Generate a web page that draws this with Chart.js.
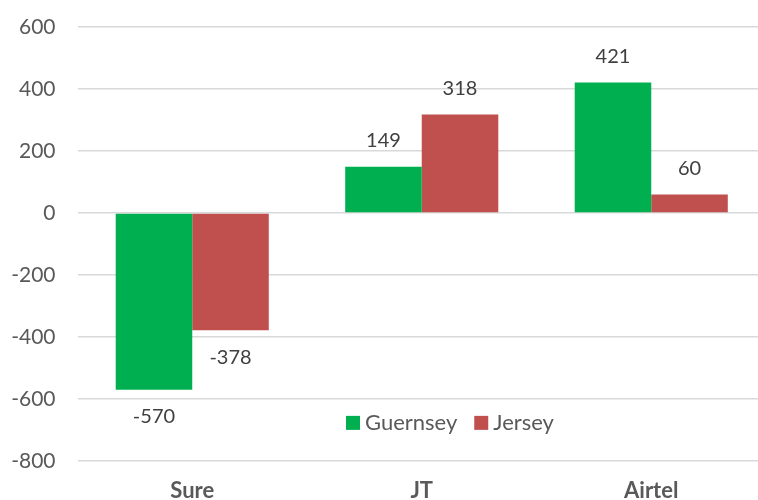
<!DOCTYPE html>
<html>
<head>
<meta charset="utf-8">
<script src="https://cdn.jsdelivr.net/npm/chart.js@4/dist/chart.umd.min.js"></script>
<style>
  html, body { margin: 0; padding: 0; background: #fff; overflow: hidden; }
  #wrap { width: 758px; height: 500px; overflow: hidden; }
  #box { width: 772px; height: 500px; }
</style>
</head>
<body>
<div id="wrap"><div id="box"><canvas id="chart"></canvas></div></div>
<script>
// values
const categories = ['Sure', 'JT', 'Airtel'];
const guernsey = [-570, 149, 421];
const jersey = [-378, 318, 60];
const yTicks = [-800, -600, -400, -200, 0, 200, 400, 600];

const FONT = 'Lato, "Open Sans", sans-serif';

// value labels above positive bars, below negative ones
const barLabels = {
    id: 'barLabels',
    afterDatasetsDraw(chart) {
        const ctx = chart.ctx;
        ctx.save();
        ctx.font = '20px ' + FONT;
        ctx.fillStyle = '#404040';
        ctx.textAlign = 'center';
        ctx.textBaseline = 'middle';
        chart.data.datasets.forEach((ds, i) => {
            chart.getDatasetMeta(i).data.forEach((bar, j) => {
                const v = ds.data[j];
                const y = v >= 0 ? bar.y - 26 : bar.y + 27;
                ctx.fillText(String(v), bar.x, y);
            });
        });
        ctx.restore();
    }
};

// legend drawn inside the plot, between -600 and -800
const innerLegend = {
    id: 'innerLegend',
    afterDraw(chart) {
        const ctx = chart.ctx;
        const y = chart.scales.y.getPixelForValue(-677);
        ctx.save();
        ctx.font = '22px ' + FONT;
        ctx.textBaseline = 'middle';
        let x = 346;
        chart.data.datasets.forEach(ds => {
            ctx.fillStyle = ds.backgroundColor;
            ctx.fillRect(x, y - 7, 14, 14);
            ctx.fillStyle = '#595959';
            ctx.fillText(ds.label, x + 19, y);
            x += 19 + ctx.measureText(ds.label).width + 17;
        });
        ctx.restore();
    }
};

new Chart(document.getElementById('chart'), {
    type: 'bar',
    data: {
        labels: categories,
        datasets: [
            { label: 'Guernsey', data: guernsey, backgroundColor: '#00b050' },
            { label: 'Jersey', data: jersey, backgroundColor: '#c0504d' }
        ]
    },
    options: {
        responsive: true,
        maintainAspectRatio: false,
        animation: false,
        layout: { padding: { top: 27, right: 6, left: 8, bottom: 0 } },
        datasets: { bar: { barPercentage: 1, categoryPercentage: 0.667 } },
        plugins: {
            legend: { display: false },
            tooltip: { enabled: false }
        },
        scales: {
            x: {
                afterFit(axis) { axis.height = 39; },
                grid: { display: false, drawTicks: false },
                border: { display: false },
                ticks: {
                    color: '#595959',
                    font: { family: FONT, size: 22, weight: 'bold' },
                    padding: 17
                }
            },
            y: {
                min: -800,
                max: 600,
                afterBuildTicks(axis) {
                    axis.ticks = yTicks.map(v => ({ value: v }));
                },
                afterFit(axis) {
                    axis.width = 69.5;
                    axis.paddingTop = 0;
                    axis.paddingBottom = 0;
                },
                grid: { color: '#d9d9d9', lineWidth: 1.5, drawTicks: false },
                border: { display: false },
                ticks: {
                    color: '#595959',
                    font: { family: FONT, size: 21 },
                    padding: 22
                }
            }
        }
    },
    plugins: [barLabels, innerLegend]
});
</script>
</body>
</html>
